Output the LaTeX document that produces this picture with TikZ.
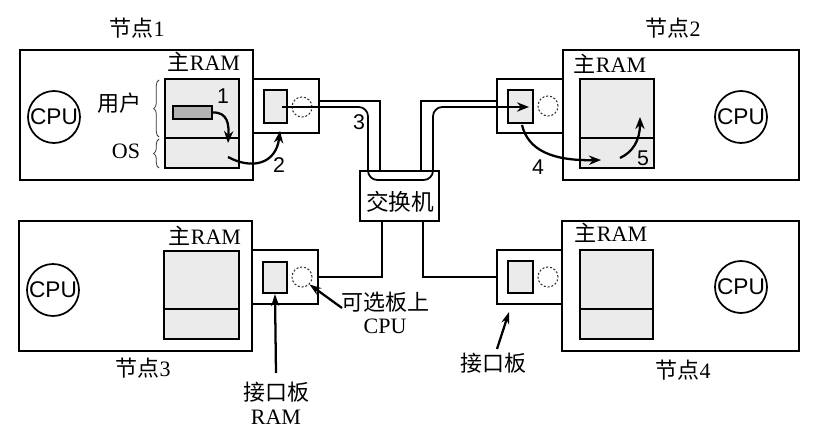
\documentclass[tikz,border=0pt]{standalone}
\usepackage{fontspec}
\setmainfont{Liberation Serif}
\newfontfamily\cjk{Noto Sans CJK SC}
\newfontfamily\hel{Liberation Sans}
\usetikzlibrary{fit,arrows.meta,decorations.pathreplacing}
\begin{document}
\begin{tikzpicture}[x=0.75pt,y=-0.75pt,
  nodebox/.style={draw, line width=1.5pt, inner sep=0pt},
  board/.style={draw, line width=1.4pt, inner sep=0pt, fill=white},
  ram/.style={draw, line width=1.6pt, inner sep=0pt, fill=black!8},
  smallram/.style={draw, line width=1.6pt, inner sep=0pt, fill=black!8},
  ubuf/.style={draw, line width=1.2pt, inner sep=0pt, fill=black!30},
  divider/.style={line width=1.6pt},
  cpu/.style={circle, draw, line width=1.3pt, minimum size=39pt, inner sep=0pt, font=\hel\fontsize{17}{17}\selectfont},
  dc/.style={circle, draw=black!80, dash pattern=on 1.5pt off 1.4pt, line width=0.8pt, minimum size=15pt, inner sep=0pt},
  lbl/.style={inner sep=0pt, font=\fontsize{16.5}{19}\selectfont},
  num/.style={inner sep=0pt, font=\hel\fontsize{16}{18}\selectfont},
  brace/.style={decorate, decoration={brace, amplitude=4pt}, line width=0.6pt, black!80},
  cable/.style={line width=1.3pt},
  msg/.style={line width=1.3pt, rounded corners=7pt},
  flow/.style={line width=1.7pt, -{Stealth[length=9pt,width=7pt]}},
  ptr/.style={line width=1.7pt, -{Stealth[length=9pt,width=6pt]}}
]
\useasboundingbox (0,0) rectangle (818,441);

% ---------- Node 1 ----------
\node[nodebox, fit={(20,50) (253,180)}] (n1) {};
\node[board, fit={(253,79) (319,133)}] (b1) {};
\node[ram, fit={(165,79) (239,168)}] (r1) {};
\draw[divider] (r1.west |- 0,138) -- (r1.east |- 0,138);
\node[smallram, fit={(264,90) (287,123)}] (s1) {};
\node[dc] (c1) at (302,107) {};
\node[cpu] (p1) at (54,117) {CPU};
\node[ubuf, fit={(173,106) (212,119)}] (u1) {};
\node[lbl] (t1) at (137,28) {{\cjk 节点}1};
\node[lbl] (m1) at (204,62) {{\cjk 主}RAM};
\node[lbl] (yh) at (119,103) {\cjk 用户};
\node[lbl] (os) at (126,151) {OS};
\draw[brace] (159,137) -- (159,80);
\draw[brace] (159,168) -- (159,139);
\node[num] (l1) at (223,96) {1};
\node[num] (l2) at (279,165) {2};
\coordinate (a1e) at (228,143);
\coordinate (a2s) at (228,157);
\coordinate (a2e) at (280,131);
\draw[flow] (u1.east) .. controls (228,112) and (229,125) .. (a1e);
\draw[flow] (a2s) .. controls (252,170) and (276,164) .. (a2e);

% ---------- Node 2 ----------
\node[nodebox, fit={(563,50) (799,180)}] (n2) {};
\node[board, fit={(497,79) (563,133)}] (b2) {};
\node[ram, fit={(580,79) (654,168)}] (r2) {};
\draw[divider] (r2.west |- 0,138) -- (r2.east |- 0,138);
\node[smallram, fit={(508,90) (533,123)}] (s2) {};
\node[dc] (c2) at (548,106) {};
\node[cpu] (p2) at (741,117) {CPU};
\node[lbl] (t2) at (673,28) {{\cjk 节点}2};
\node[lbl] (m2) at (610,64) {{\cjk 主}RAM};
\node[num] (l4) at (538,167) {4};
\node[num] (l5) at (643,158) {5};
\coordinate (a4s) at (522,125);
\coordinate (a4e) at (601,160);
\coordinate (a5s) at (620,158);
\coordinate (a5e) at (640,117);
\draw[flow] (a4s) .. controls (528,150) and (552,161) .. (a4e);
\draw[flow] (a5s) .. controls (633,152) and (640,140) .. (a5e);

% ---------- Node 3 ----------
\node[nodebox, fit={(19,221) (252,351)}] (n3) {};
\node[board, fit={(252,250) (318,304)}] (b3) {};
\node[ram, fit={(164,251) (239,339)}] (r3) {};
\draw[divider] (r3.west |- 0,309) -- (r3.east |- 0,309);
\node[smallram, fit={(263,262) (287,293)}] (s3) {};
\node[dc] (c3) at (302,277) {};
\node[cpu] (p3) at (53,290) {CPU};
\node[lbl] (t3) at (143,368) {{\cjk 节点}3};
\node[lbl] (m3) at (205,236) {{\cjk 主}RAM};
\node[lbl] (opt1) at (385,302) {\cjk 可选板上};
\node[lbl] (opt2) at (385,326) {CPU};
\node[lbl] (if1) at (276,392) {\cjk 接口板};
\node[lbl] (if2) at (276,417) {RAM};
\coordinate (q1) at (342,308);
\coordinate (q2) at (276,373);
\draw[ptr] (q1) -- (c3.south east);
\draw[ptr] (q2) -- (s3.south);

% ---------- Node 4 ----------
\node[nodebox, fit={(562,221) (799,351)}] (n4) {};
\node[board, fit={(497,250) (562,304)}] (b4) {};
\node[ram, fit={(580,250) (653,339)}] (r4) {};
\draw[divider] (r4.west |- 0,309) -- (r4.east |- 0,309);
\node[smallram, fit={(508,261) (533,293)}] (s4) {};
\node[dc] (c4) at (548,277) {};
\node[cpu] (p4) at (741,287) {CPU};
\node[lbl] (t4) at (683,370) {{\cjk 节点}4};
\node[lbl] (m4) at (611,233) {{\cjk 主}RAM};
\node[lbl] (if3) at (493,363) {\cjk 接口板};
\coordinate (q3) at (497,349);
\coordinate (q4) at (509,312);
\draw[ptr] (q3) -- (q4);

% ---------- Switch ----------
\node[nodebox, fit={(360,171) (439,221)}] (sw) {};
\node[lbl, font=\cjk\fontsize{17}{19}\selectfont] (swt) at (400,202) {交换机};
\coordinate (k1) at (319,101);
\coordinate (k2) at (497,101);
\coordinate (k3) at (318,277);
\coordinate (k4) at (497,277);
\coordinate (w1) at (380,171);
\coordinate (w2) at (421,171);
\coordinate (w3) at (382,221);
\coordinate (w4) at (423,221);
\draw[cable] (k1) -| (w1);
\draw[cable] (w2) |- (k2);
\draw[cable] (w3) |- (k3);
\draw[cable] (w4) |- (k4);

% message path
\coordinate (ms) at (282,107);
\coordinate (me) at (529,107);
\draw[msg, -{Stealth[length=9pt,width=7pt]}] (ms) -- (368,107) -- (368,180) -- (433,180) -- (433,107) -- (me);
\node[num] (l3) at (359,122) {3};
\end{tikzpicture}
\end{document}
